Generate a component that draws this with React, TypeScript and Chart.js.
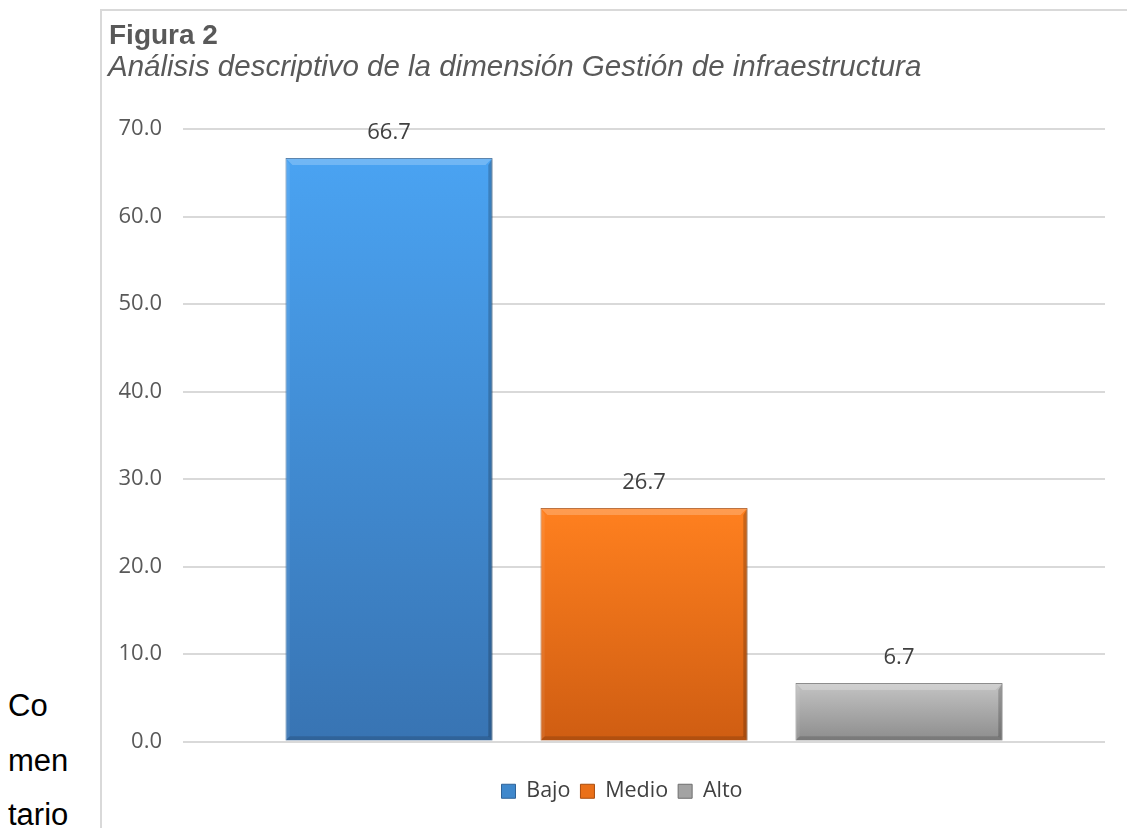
import { useEffect, useRef } from "react";
import { Chart, registerables } from "chart.js";

Chart.register(...registerables);

const categories = ["Bajo", "Medio", "Alto"];
const values = [66.7, 26.7, 6.7];
const yMin = 0;
const yMax = 70;
const yStep = 10;
const topColors = ["#4AA3F2", "#FF801F", "#C4C4C4"];
const bottomColors = ["#3874B3", "#CF5D12", "#8C8C8C"];
const borderColors = ["#2F6398", "#A94C0E", "#6E6E6E"];
const legendColors = ["#3F88CC", "#EA7019", "#A3A3A3"];
const titleText = "Figura 2";
const subtitleText = "Análisis descriptivo de la dimensión Gestión de infraestructura";
const sideWords = ["Co", "men", "tario"];

const TICK_FONT = "'Open Sans', 'Noto Sans', sans-serif";

const legendShiftPlugin = {
  id: "legendShift",
  afterLayout(chart: any) {
    if (chart.legend) {
      chart.legend.left += 37;
    }
  },
};

const bevelPlugin = {
  id: "bevel",
  afterDatasetsDraw(chart: any) {
    const ctx = chart.ctx;
    chart.data.datasets.forEach((_: any, di: number) => {
      const meta = chart.getDatasetMeta(di);
      meta.data.forEach((el: any) => {
        const p = el.getProps(["x", "y", "base", "width"], true);
        const l = p.x - p.width / 2;
        const r = p.x + p.width / 2;
        const t = p.y;
        const b = p.base;
        const s = Math.min(7, (b - t) / 3);
        ctx.save();
        ctx.fillStyle = "rgba(255,255,255,0.22)";
        ctx.beginPath();
        ctx.moveTo(l, t);
        ctx.lineTo(r, t);
        ctx.lineTo(r - s, t + s);
        ctx.lineTo(l + s, t + s);
        ctx.closePath();
        ctx.fill();
        ctx.fillStyle = "rgba(255,255,255,0.08)";
        ctx.beginPath();
        ctx.moveTo(l, t);
        ctx.lineTo(l + s * 0.6, t + s);
        ctx.lineTo(l + s * 0.6, b - s * 0.6);
        ctx.lineTo(l, b);
        ctx.closePath();
        ctx.fill();
        ctx.fillStyle = "rgba(0,0,0,0.2)";
        ctx.beginPath();
        ctx.moveTo(r, t);
        ctx.lineTo(r - s * 0.6, t + s);
        ctx.lineTo(r - s * 0.6, b - s * 0.6);
        ctx.lineTo(r, b);
        ctx.closePath();
        ctx.fill();
        ctx.fillStyle = "rgba(0,0,0,0.14)";
        ctx.beginPath();
        ctx.moveTo(l, b);
        ctx.lineTo(l + s * 0.6, b - s * 0.6);
        ctx.lineTo(r - s * 0.6, b - s * 0.6);
        ctx.lineTo(r, b);
        ctx.closePath();
        ctx.fill();
        ctx.restore();
      });
    });
  },
};

const dataLabelPlugin = {
  id: "dataLabels",
  afterDatasetsDraw(chart: any) {
    const ctx = chart.ctx;
    ctx.save();
    ctx.font = `22px ${TICK_FONT}`;
    ctx.fillStyle = "#404040";
    ctx.textAlign = "center";
    ctx.textBaseline = "middle";
    chart.data.datasets.forEach((ds: any, di: number) => {
      const meta = chart.getDatasetMeta(di);
      meta.data.forEach((el: any, i: number) => {
        const v = ds.data[i];
        ctx.fillText(Number(v).toFixed(1), el.x, el.y - 25);
      });
    });
    ctx.restore();
  },
};

export default function App() {
  const canvasRef = useRef<HTMLCanvasElement | null>(null);

  useEffect(() => {
    const canvas = canvasRef.current;
    if (!canvas) return;
    const chart = new Chart(canvas, {
      type: "bar",
      data: {
        labels: [""],
        datasets: categories.map((cat, i) => ({
          label: cat,
          data: [values[i]],
          backgroundColor: (c: any) => {
            const ch = c.chart;
            if (!ch.chartArea || !ch.scales || !ch.scales.y) return legendColors[i];
            const ys = ch.scales.y;
            const top = ys.getPixelForValue(values[i]);
            const bottom = ys.getPixelForValue(0);
            const g = ch.ctx.createLinearGradient(0, top, 0, bottom);
            g.addColorStop(0, topColors[i]);
            g.addColorStop(1, bottomColors[i]);
            return g;
          },
          borderColor: borderColors[i],
          borderWidth: 1,
          categoryPercentage: 0.8297,
          barPercentage: 0.8118,
        })),
      },
      options: {
        animation: false,
        responsive: false,
        maintainAspectRatio: false,
        layout: { padding: { left: 0, right: 22, top: 118, bottom: 16 } },
        plugins: {
          title: { display: false },
          tooltip: { enabled: false },
          legend: {
            display: true,
            position: "bottom",
            labels: {
              boxWidth: 14,
              boxHeight: 14,
              padding: 10,
              color: "#404040",
              font: { family: TICK_FONT, size: 21.5 },
              generateLabels: (ch: any) =>
                ch.data.datasets.map((ds: any, i: number) => ({
                  text: ds.label,
                  fillStyle: legendColors[i],
                  strokeStyle: borderColors[i],
                  lineWidth: 1,
                  hidden: false,
                  datasetIndex: i,
                  fontColor: "#404040",
                })),
            },
          },
        },
        scales: {
          x: {
            display: true,
            grid: { display: false, drawTicks: false },
            border: { display: false },
            ticks: { display: false },
            afterFit: (s: any) => {
              s.height = 29;
            },
          },
          y: {
            min: yMin,
            max: yMax,
            grid: { color: "#D9D9D9", lineWidth: 2, drawTicks: false },
            border: { display: false },
            ticks: {
              stepSize: yStep,
              padding: 21,
              color: "#595959",
              font: { family: TICK_FONT, size: 22 },
              callback: (v: any) => Number(v).toFixed(1),
            },
            afterFit: (s: any) => {
              s.width = 81;
            },
          },
        },
      },
      plugins: [legendShiftPlugin, bevelPlugin, dataLabelPlugin],
    } as any);
    return () => chart.destroy();
  }, []);

  return (
    <div
      style={{
        position: "fixed",
        left: 0,
        top: 0,
        width: 1127,
        height: 828,
        background: "#fff",
        overflow: "hidden",
      }}
    >
      <div
        style={{
          position: "absolute",
          left: 8,
          top: 679,
          fontFamily: "'Liberation Sans', Arial, sans-serif",
          fontSize: 31,
          lineHeight: "54.5px",
          color: "#000",
        }}
      >
        {sideWords.map((w) => (
          <div key={w}>{w}</div>
        ))}
      </div>
      <div
        style={{
          position: "absolute",
          left: 100,
          top: 9,
          width: 1027,
          height: 819,
          boxSizing: "border-box",
          borderTop: "2px solid #D9D9D9",
          borderLeft: "2px solid #D9D9D9",
        }}
      >
        <div
          style={{
            position: "absolute",
            left: 7,
            top: 10,
            fontFamily: "'Liberation Sans', Arial, sans-serif",
            fontWeight: "bold",
            fontSize: 28,
            lineHeight: "28px",
            color: "#595959",
            whiteSpace: "nowrap",
          }}
        >
          {titleText}
        </div>
        <div
          style={{
            position: "absolute",
            left: 6,
            top: 41,
            fontFamily: "'Liberation Sans', Arial, sans-serif",
            fontStyle: "italic",
            fontSize: 29.5,
            lineHeight: "28px",
            color: "#595959",
            whiteSpace: "nowrap",
          }}
        >
          {subtitleText}
        </div>
        <canvas
          ref={canvasRef}
          width={1025}
          height={817}
          style={{ display: "block", width: 1025, height: 817 }}
        />
      </div>
    </div>
  );
}
